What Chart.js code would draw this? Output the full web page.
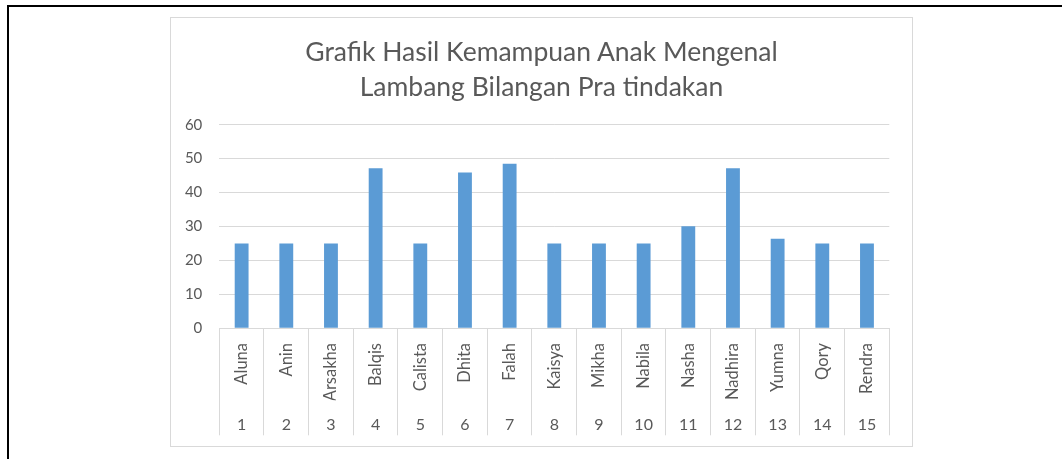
<!DOCTYPE html>
<html>
<head>
<meta charset="utf-8">
<script src="https://cdn.jsdelivr.net/npm/chart.js@4.4.1/dist/chart.umd.min.js"></script>
<style>
  body { margin: 0; background: #fff; }
  .frame { position: absolute; left: 7px; top: 5px; width: 1100px; height: 500px;
           border-top: 2px solid #000; border-left: 2px solid #000; }
  .box { position: absolute; left: 170px; top: 17px; width: 743px; height: 430px;
         border: 1px solid #d9d9d9; box-sizing: border-box; }
  .title { position: absolute; left: 0; right: 0; top: 16px; text-align: center;
           font: 26.5px/35px Lato, 'Open Sans', sans-serif; color: #595959; }
  canvas { display: block; }
</style>
</head>
<body>
<div class="frame"></div>
<div class="box">
  <canvas id="chart" width="741" height="428"></canvas>
  <div class="title" id="title"></div>
</div>
<script>
// chart data
const titleLines = ["Grafik Hasil Kemampuan Anak Mengenal", "Lambang Bilangan Pra tindakan"];
const studentNames = ["Aluna", "Anin", "Arsakha", "Balqis", "Calista", "Dhita", "Falah", "Kaisya",
  "Mikha", "Nabila", "Nasha", "Nadhira", "Yumna", "Qory", "Rendra"];
const studentNumbers = ["1", "2", "3", "4", "5", "6", "7", "8", "9", "10", "11", "12", "13", "14", "15"];
const scores = [25, 25, 25, 47.2, 25, 45.9, 48.5, 25, 25, 25, 30.1, 47.2, 26.4, 25, 25];

const textColor = "#595959";
const lineColor = "#d9d9d9";
const fontFamily = "Lato, 'Open Sans', sans-serif";

// title is centred over the whole box, not just the plot
const titleEl = document.getElementById("title");
titleLines.forEach((line) => {
  const d = document.createElement("div");
  d.textContent = line;
  titleEl.appendChild(d);
});

new Chart(document.getElementById("chart").getContext("2d"), {
  type: "bar",
  data: {
    labels: studentNames,
    datasets: [{
      data: scores,
      backgroundColor: "#5b9bd5",
      borderWidth: 0,
      categoryPercentage: 1,
      barPercentage: 0.31,
      xAxisID: "x"
    }]
  },
  options: {
    responsive: false,
    animation: false,
    layout: { padding: { left: 0, right: 22.7, top: 106.7, bottom: 10.7 } },
    plugins: {
      legend: { display: false },
      tooltip: { enabled: false },
      title: { display: false }
    },
    scales: {
      y: {
        min: 0,
        max: 60,
        ticks: { stepSize: 10, color: textColor, padding: 17, font: { family: fontFamily, size: 15 } },
        grid: { color: lineColor, drawTicks: false },
        border: { display: false },
        afterFit: (scale) => { scale.width = 48.3; }
      },
      x: {
        position: "bottom",
        weight: 0,
        offset: true,
        grid: { offset: true, drawOnChartArea: false, drawTicks: true, tickLength: 72, color: lineColor },
        border: { display: true, color: lineColor },
        ticks: {
          autoSkip: false, minRotation: 90, maxRotation: 90, padding: -57.3,
          color: textColor, font: { family: fontFamily, size: 16.5 }
        },
        afterFit: (scale) => { scale.height = 72; }
      },
      x2: {
        type: "category",
        position: "bottom",
        weight: 1,
        labels: studentNumbers,
        offset: true,
        grid: { offset: true, drawOnChartArea: false, drawTicks: true, tickLength: 35, color: lineColor },
        border: { display: false },
        ticks: {
          autoSkip: false, minRotation: 0, maxRotation: 0, padding: -20.3,
          color: textColor, font: { family: fontFamily, size: 16 }
        },
        afterFit: (scale) => { scale.height = 35; }
      }
    }
  }
});
</script>
</body>
</html>
